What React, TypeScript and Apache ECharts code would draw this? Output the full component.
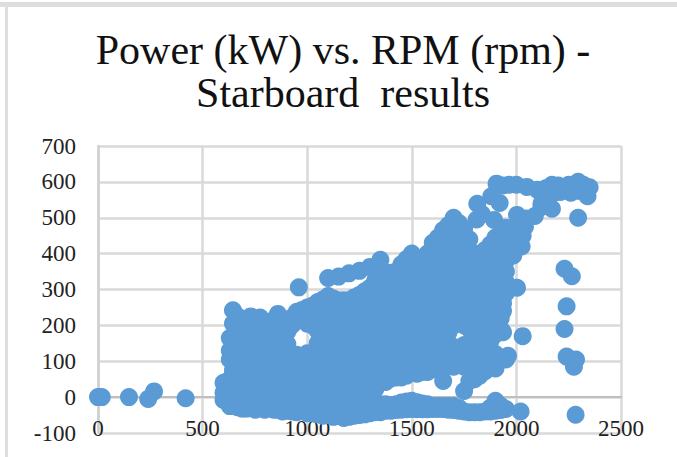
import React, { useEffect, useRef } from "react";
import * as echarts from "echarts";

const titleLines = ["Power (kW) vs. RPM (rpm) -", "Starboard  results"];

// Each rpm column with the power readings seen there
const rpmColumns = [600, 630, 645, 690, 730, 775, 820, 860, 905, 950, 1000, 1050, 1100, 1150, 1200, 1250, 1300, 1350, 1400, 1450, 1500, 1550, 1600, 1650, 1700, 1750, 1800, 1850, 1900, 1950];
const powerColumns = [
  [40, 12, -8],
  [165, 130, 105, 50, 20, -12, -25],
  [242, 205, 170, 135, 105, 75, 45, 15, -15],
  [200, 165, 130, 100, 70, 40, 10, -20, -32],
  [225, 195, 165, 135, 95, 65, 35, 5, -25],
  [222, 195, 165, 140, 100, 62, 30, 0, -28],
  [210, 180, 150, 120, 85, 55, 25, -5, -30],
  [232, 200, 170, 140, 95, 65, 35, 5, -20, -35],
  [212, 182, 148, 100, 70, 40, 10, -15, -38],
  [238, 212, 118, 88, 58, 28, -5, -25, -42],
  [250, 225, 205, 122, 92, 62, 32, 2, -25, -45],
  [265, 240, 212, 185, 150, 120, 90, 60, 30, 0, -28, -48],
  [332, 282, 250, 220, 190, 160, 130, 100, 70, 40, 10, -20, -50],
  [336, 270, 240, 210, 180, 150, 120, 90, 60, 30, 0, -30, -52],
  [345, 270, 240, 212, 182, 152, 122, 92, 62, 32, 2, -28, -55],
  [352, 285, 255, 225, 195, 165, 135, 105, 75, 45, 15, -20, -50],
  [363, 305, 275, 245, 215, 185, 155, 125, 95, 65, 35, 8, -25, -45],
  [383, 340, 315, 285, 255, 225, 195, 165, 135, 105, 75, 42, -20, -42],
  [347, 320, 290, 260, 230, 200, 170, 140, 110, 80, 52, -22, -38],
  [370, 340, 310, 280, 250, 220, 190, 160, 130, 100, 70, 55, -15, -35],
  [400, 370, 340, 310, 280, 250, 220, 190, 160, 130, 100, 68, -10, -33],
  [368, 338, 308, 278, 248, 218, 188, 158, 128, 98, 70, -18, -34],
  [430, 400, 370, 340, 310, 280, 250, 220, 190, 160, 130, 100, 78, -25, -33],
  [466, 435, 405, 375, 345, 315, 285, 255, 225, 195, 165, 135, 105, 80, 45, -25, -33],
  [500, 470, 440, 410, 380, 350, 320, 290, 260, 230, 200, 140, 110, 85, -25, -36],
  [470, 440, 410, 380, 350, 320, 290, 260, 230, 200, 145, 112, 85, 17, -40],
  [400, 372, 345, 315, 285, 255, 225, 195, 165, 130, 105, 50, -42],
  [410, 380, 350, 320, 290, 260, 225, 185, 150, 115, 72, -40],
  [445, 415, 385, 355, 325, 295, 265, 235, 205, 175, 120, 80, -10, -38],
  [472, 440, 410, 380, 350, 320, 290, 105, -33],
];

const denseRpm = [667, 710, 752, 797, 840, 882, 927, 975, 1025, 1075, 1125, 1175, 1225, 1275, 1325, 1375, 1425, 1475, 1525, 1575, 1625, 1675, 1725, 1775, 1825, 1875, 1925];
const densePower = [
  [225, 190, 150, 118, 88, 58, 28, -2, -28],
  [210, 180, 150, 115, 80, 50, 20, -10, -32],
  [210, 180, 152, 120, 82, 46, 15, -15, -35],
  [195, 165, 135, 105, 70, 40, 10, -18, -35],
  [215, 185, 155, 110, 80, 50, 20, -10, -35],
  [218, 185, 155, 118, 85, 55, 25, -5, -28, -40],
  [222, 200, 105, 75, 45, 15, -10, -40],
  [243, 218, 105, 75, 45, 15, -15, -38],
  [255, 232, 215, 200, 105, 75, 45, 15, -12, -45],
  [272, 250, 226, 198, 168, 135, 105, 75, 45, 15, -12, -38, -52],
  [275, 262, 235, 205, 175, 145, 115, 85, 55, 25, -5, -35, -55],
  [270, 255, 225, 195, 165, 135, 105, 75, 45, 15, -15, -42, -58],
  [278, 255, 225, 195, 165, 135, 105, 75, 45, 15, -5, -35, -52],
  [295, 270, 240, 210, 180, 150, 120, 90, 60, 30, 0, -30, -48],
  [325, 290, 260, 230, 200, 170, 140, 110, 80, 50, 22, -22, -42],
  [330, 300, 270, 240, 210, 180, 150, 120, 90, 60, 42, -20, -38],
  [350, 325, 295, 265, 235, 205, 175, 145, 115, 85, 55, -20, -36],
  [385, 355, 325, 295, 265, 235, 205, 175, 145, 115, 85, 60, -12, -34],
  [385, 355, 325, 295, 265, 235, 205, 175, 145, 115, 85, 65, -14, -34],
  [400, 352, 322, 292, 262, 232, 202, 172, 142, 112, 85, 70, -20, -34],
  [445, 415, 385, 355, 325, 295, 265, 235, 205, 175, 145, 115, 88, -25, -33],
  [480, 450, 420, 390, 360, 330, 300, 270, 240, 210, 180, 150, 120, 92, -25, -35],
  [485, 455, 425, 395, 365, 335, 305, 275, 245, 215, 125, 95, -30, -38],
  [440, 400, 365, 335, 305, 275, 245, 215, 190, 125, 95, 45, -42],
  [390, 360, 330, 300, 270, 240, 210, 170, 135, 90, 60, -42],
  [425, 395, 365, 335, 305, 275, 245, 215, 190, 155, 105, -30, -40],
  [455, 425, 395, 365, 335, 305, 275, 250, 220, 190, 110, -24, -36],
];

const startupRpm = [0, 8, 18, 148, 240, 268, 419];
const startupPower = [0, 0, 0, 0, -5, 16, -3];

const outlierRpm = [1813, 1810, 1835, 1893, 1880, 1920, 2003, 2041, 2003, 2025, 2088, 2130, 2170, 2295, 2230, 2265, 2240, 2230, 2240, 2285, 2275, 2283, 2030, 2003, 1960, 2020, 1990, 2030, 2010, 960, 1960, 1985, 1936, 1936, 1936, 2045, 2120, 2150];
const outlierPower = [539, 495, 510, 494, 560, 541, 508, 475, 445, 420, 505, 550, 525, 500, 358, 337, 253, 190, 113, 105, 85, -49, 170, 305, 115, -40, 420, 450, 475, 306, 400, 395, 262, 240, 181, 498, 530, 535];

const ridgeRpm = [1905, 1935, 1965, 2000, 2050, 2100, 2140, 2170, 2200, 2250, 2295, 2320, 2350, 2340, 2300, 2260, 2150, 2120, 2180, 2210];
const ridgePower = [595, 590, 592, 592, 586, 578, 582, 592, 590, 592, 600, 592, 585, 560, 575, 570, 560, 540, 570, 572];

const xTicks = { min: 0, max: 2500, interval: 500 };
const yTicks = { min: -100, max: 700, interval: 100 };

const App = () => {
  const ref = useRef<HTMLDivElement>(null);
  useEffect(() => {
    document.body.style.margin = "0";
    const chart = echarts.init(ref.current!, null, { renderer: "svg" });
    const points: number[][] = [];
    rpmColumns.forEach((rpm, i) => powerColumns[i].forEach((kw) => points.push([rpm, kw])));
    denseRpm.forEach((rpm, i) => densePower[i].forEach((kw) => points.push([rpm, kw])));
    startupRpm.forEach((rpm, i) => points.push([rpm, startupPower[i]]));
    outlierRpm.forEach((rpm, i) => points.push([rpm, outlierPower[i]]));
    ridgeRpm.forEach((rpm, i) => points.push([rpm, ridgePower[i]]));
    const font = "'Liberation Serif', 'Times New Roman', serif";
    chart.setOption({
      animation: false,
      backgroundColor: "#ffffff",
      title: {
        text: titleLines.join("\n"),
        left: 338,
        top: 23,
        textAlign: "center",
        textStyle: { fontFamily: font, fontSize: 42, fontWeight: "normal", color: "#111111", lineHeight: 43 },
      },
      grid: { left: 98, right: 56, top: 146, bottom: 24, outerBoundsMode: "none" },
      xAxis: {
        type: "value",
        ...xTicks,
        axisLine: { onZero: true, lineStyle: { color: "#bfbfbf", width: 2 } },
        axisTick: { show: false },
        axisLabel: { fontFamily: font, fontSize: 23, color: "#222222", margin: -16, formatter: (v: number) => String(v) },
        splitLine: { show: true, lineStyle: { color: "#d9d9d9", width: 2.5 } },
      },
      yAxis: {
        type: "value",
        ...yTicks,
        axisLine: { show: true, onZero: true, lineStyle: { color: "#d0d0d0", width: 2.5 } },
        axisTick: { show: false },
        axisLabel: { fontFamily: font, fontSize: 23, color: "#222222", margin: 22, formatter: (v: number) => String(v) },
        splitLine: { show: true, lineStyle: { color: "#d9d9d9", width: 2.5 } },
      },
      graphic: [
        { type: "rect", shape: { x: 0, y: 2, width: 677, height: 5 }, style: { fill: "#dedede" } },
        { type: "rect", shape: { x: 5, y: 2, width: 3, height: 455 }, style: { fill: "#dedede" } },
      ],
      series: [
        {
          type: "scatter",
          data: points,
          symbol: "circle",
          symbolSize: 18,
          clip: false,
          itemStyle: { color: "#5b9bd5", opacity: 1 },
        },
      ],
    });
    return () => chart.dispose();
  }, []);
  return <div ref={ref} style={{ width: 677, height: 457 }} />;
};

export default App;
